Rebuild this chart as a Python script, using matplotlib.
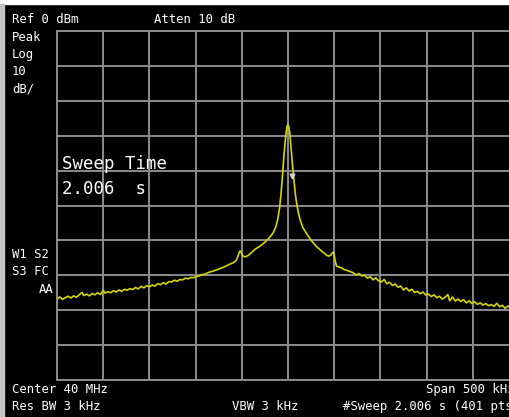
import numpy as np
import matplotlib
matplotlib.use("Agg")
import matplotlib.pyplot as plt
from matplotlib.patches import Rectangle

# trace: offset from center (kHz) and level (dBm)
freq_khz = [-250, -247, -244, -241, -238, -235, -232, -229, -226, -223, -221, -218,
            -215, -212, -209, -206, -203, -200, -198, -195, -192, -189, -186, -183,
            -180, -177, -174, -171, -168, -165, -162, -159, -156, -153, -150, -147,
            -144, -141, -138, -135, -132, -129, -126, -123, -120, -117, -114, -111,
            -108, -105, -102, -99, -96, -93, -90, -87, -84, -81, -78, -75, -72, -69,
            -66, -63, -60, -57, -55, -53, -52, -51, -50, -48, -46, -43, -40, -35,
            -30, -25, -20, -16, -13, -11, -9, -7.5, -6, -4.5, -3, -2, -1, -0.3,
            0.5, 1.2, 2, 3, 4, 5, 6.5, 8, 9.5, 11, 13, 16, 20, 25, 31, 37, 42, 44,
            46, 48, 49, 50, 51, 52.5, 55, 58, 61, 64, 67, 70, 74, 77, 80, 83, 86,
            89, 92, 95, 98, 101, 104, 107, 110, 113, 116, 119, 122, 125, 128, 131,
            134, 137, 140, 143, 146, 149, 152, 155, 158, 161, 164, 167, 170, 173,
            175, 178, 181, 184, 187, 190, 193, 196, 199, 202, 205, 208, 211, 214,
            217, 220, 223, 226, 229, 232, 235, 238, 241, 244, 247, 250]
level_dbm = [-76.8, -76.2, -76.9, -76.4, -76.0, -76.5, -75.9, -76.3, -75.6, -74.9, -75.8, -75.4,
             -75.9, -75.2, -75.6, -75.0, -75.5, -74.3, -75.1, -74.7, -75.0, -74.4, -74.8, -74.2,
             -74.6, -74.0, -74.3, -73.8, -74.1, -73.5, -73.9, -73.2, -73.6, -73.0, -73.3, -72.8,
             -73.1, -72.4, -72.7, -72.1, -72.5, -71.8, -71.9, -71.4, -71.7, -71.2, -71.3, -70.8,
             -71.0, -70.6, -70.7, -70.3, -70.2, -69.8, -69.7, -69.3, -69.0, -68.8, -68.5, -68.2,
             -67.9, -67.6, -67.2, -66.8, -66.5, -66.0, -65.2, -63.6, -63.0, -63.2, -64.0, -64.6,
             -64.7, -64.3, -63.6, -62.4, -61.6, -60.5, -59.2, -57.8, -56.0, -53.8, -50.5, -46.5,
             -41.5, -36.0, -31.5, -29.0, -27.3, -26.9, -27.2, -28.0, -29.3, -32.5, -36.0, -38.9,
             -43.0, -46.8, -49.6, -51.8, -54.0, -56.3, -58.0, -60.0, -61.8, -63.2, -64.3, -64.5,
             -64.3, -63.6, -63.4, -64.2, -65.8, -67.4, -67.6, -67.9, -68.4, -68.6, -68.9, -69.2,
             -69.9, -69.5, -70.2, -70.0, -70.8, -70.4, -71.3, -70.7, -71.6, -71.9, -71.2, -72.4,
             -72.0, -72.9, -72.5, -73.4, -73.1, -74.2, -73.6, -74.5, -74.0, -74.9, -74.6, -75.3,
             -74.8, -75.6, -75.4, -76.1, -75.6, -76.4, -76.0, -76.8, -76.3, -75.5, -77.3, -76.2,
             -77.4, -76.8, -77.5, -77.0, -77.9, -77.3, -78.1, -77.6, -78.3, -77.9, -78.5, -78.1,
             -78.7, -78.4, -78.9, -78.0, -79.0, -78.6, -79.5, -78.8, -79.3, -78.7, -79.1, -78.7]

marker_khz, marker_dbm = 4.3, -41.5

W, H = 510, 417
fig = plt.figure(figsize=(W / 100, H / 100), dpi=100, facecolor="black")

# strips left over from the page the screenshot was cut from
fig.patches.append(Rectangle((0, 1 - 4 / H), 1, 4 / H, transform=fig.transFigure,
                             color="white", zorder=0))
fig.patches.append(Rectangle((0, 0), 4 / W, 1 - 4 / H, transform=fig.transFigure,
                             color="#c4c4c4", zorder=0))

ax = fig.add_axes([57 / W, 1 - 380 / H, 462 / W, 349 / H])
ax.set_facecolor("black")
ax.set_xlim(-250, 250)
ax.set_ylim(-100, 0)
ax.set_xticks(np.arange(-250, 251, 50))
ax.set_yticks(np.arange(-100, 1, 10))
ax.tick_params(length=0, labelbottom=False, labelleft=False)
ax.grid(True, color="#8c8c8c", lw=1.4)
for s in ax.spines.values():
    s.set_color("#8c8c8c")
    s.set_linewidth(1.4)

ax.plot(freq_khz, level_dbm, color="#d6d600", lw=1.2, zorder=3)
ax.plot([marker_khz], [marker_dbm], marker="v", ms=3.5, color="#d0d0d0", zorder=4)


def label(x, y, s, size=8.8, ha="left"):
    fig.text(x / W, 1 - y / H, s, color="white", fontsize=size, ha=ha, va="top",
             family="DejaVu Sans Mono")


label(12, 13, "Ref 0 dBm")
label(154, 13, "Atten 10 dB")
label(12, 31, "Peak")
label(12, 48, "Log")
label(12, 65, "10")
label(12, 82, "dB/")
label(12, 248, "W1 S2")
label(12, 265, "S3 FC")
label(54, 283, "AA", ha="right")
label(12, 383, "Center 40 MHz")
label(12, 400, "Res BW 3 kHz")
label(232, 400, "VBW 3 kHz")
label(426, 383, "Span 500 kHz")
label(343, 400, "#Sweep 2.006 s (401 pts)")
label(62, 155, "Sweep Time", size=12.5)
label(62, 180, "2.006  s", size=12.5)

fig.savefig("out.png", dpi=100, facecolor=fig.get_facecolor())
